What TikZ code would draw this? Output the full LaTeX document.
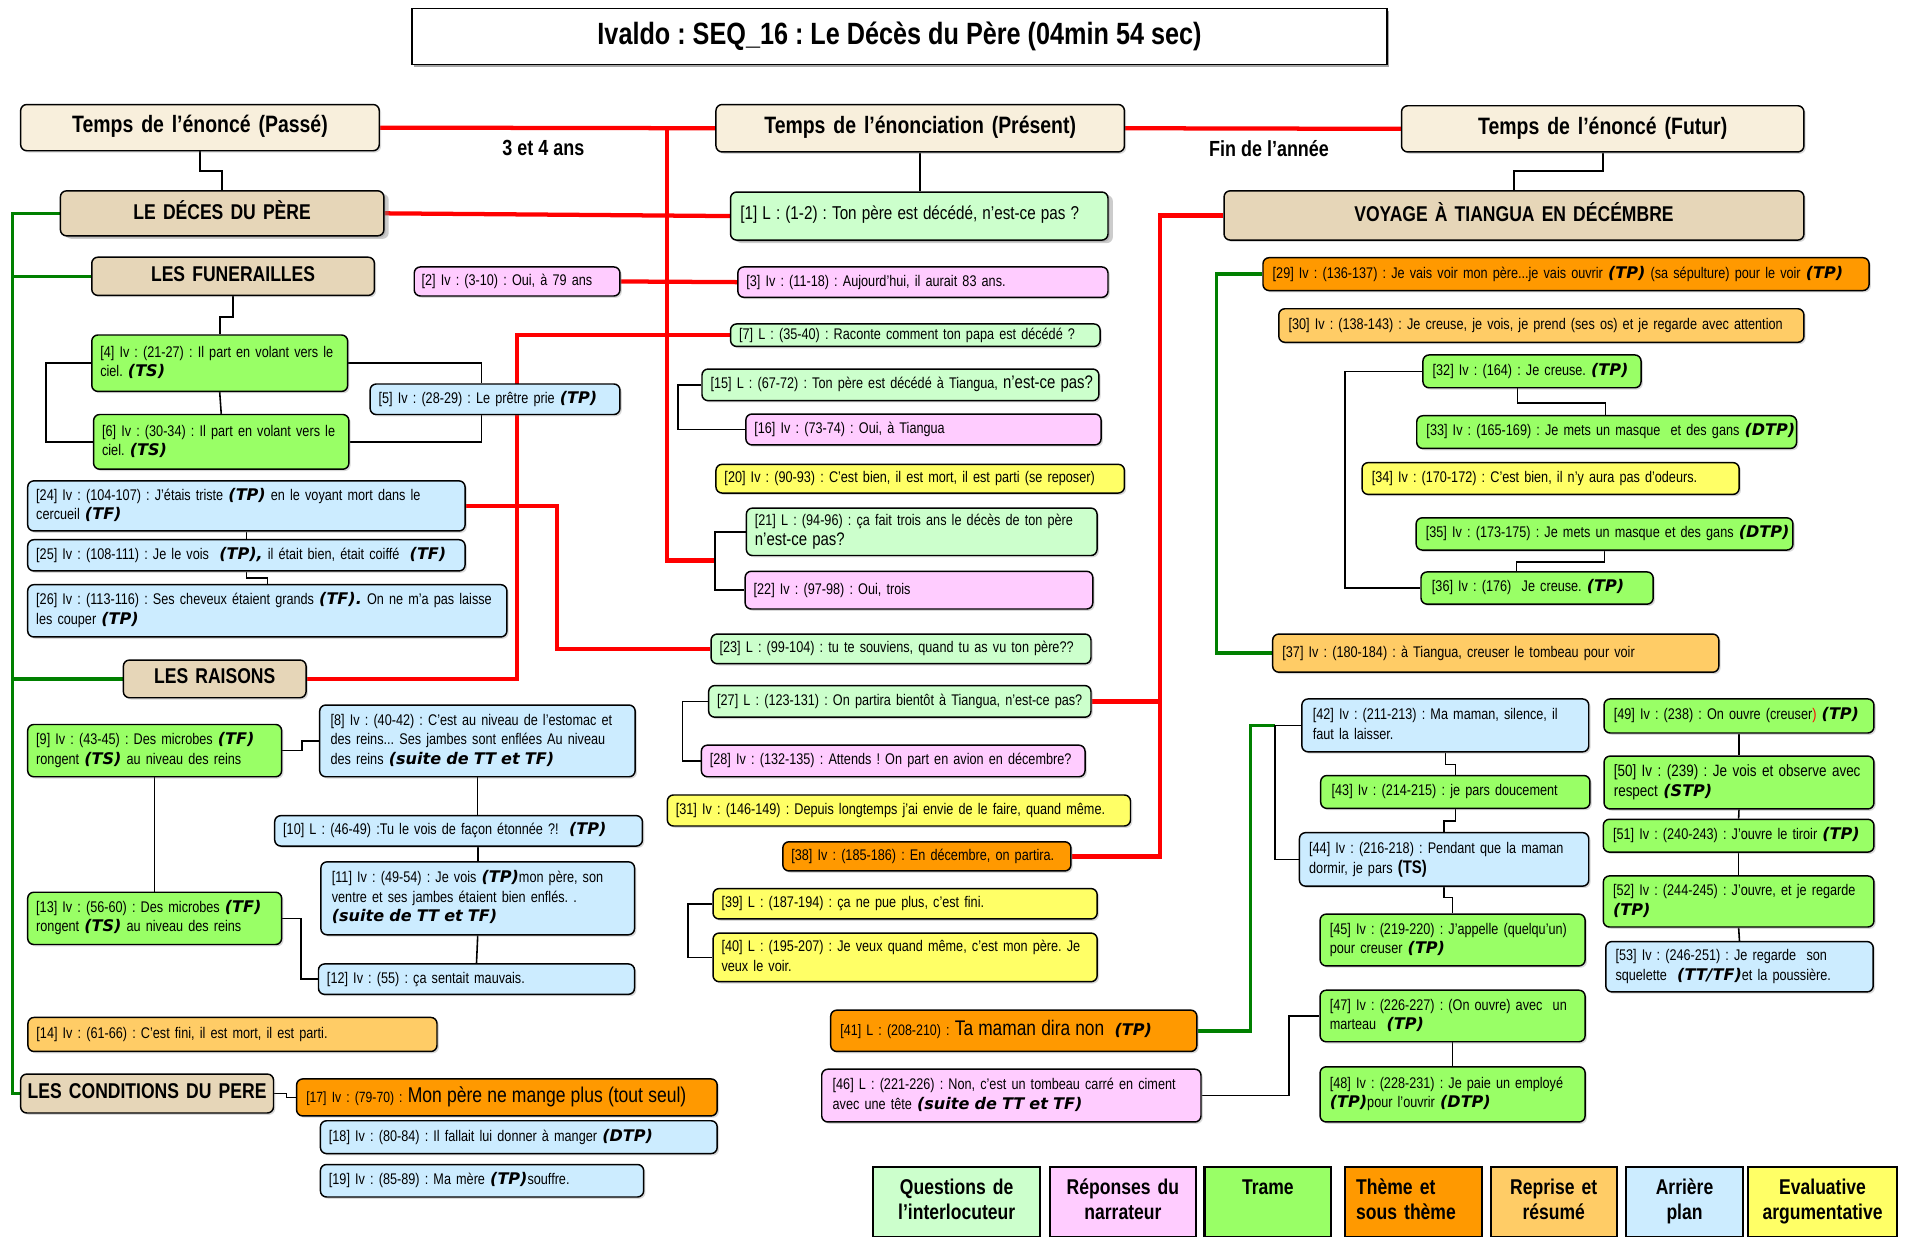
\documentclass[tikz,border=0pt]{standalone}
\usepackage{fontspec}
\setmainfont{Liberation Sans}[FakeStretch=0.82]
\newfontfamily\dvf{DejaVu Sans}
\usetikzlibrary{shadows,backgrounds}
\definecolor{qcol}{HTML}{CCFFCC}
\definecolor{rcol}{HTML}{FFCCFF}
\definecolor{tcol}{HTML}{99FF66}
\definecolor{thcol}{HTML}{FF9900}
\definecolor{recol}{HTML}{FFCC66}
\definecolor{apcol}{HTML}{CCECFF}
\definecolor{evcol}{HTML}{FFFF66}
\definecolor{hdcol}{HTML}{F8EFDC}
\definecolor{secol}{HTML}{E6D6B8}
\definecolor{grn}{HTML}{008000}
\newcommand\fbody{\fontsize{12.7}{16}\selectfont}
\newcommand\tgm[1]{{\dvf\bfseries\itshape\fontsize{13.2}{16}\selectfont #1}}
\newcommand\jl[1]{\makebox[\hsize][s]{#1}}
\newcommand\cl[1]{\makebox[\hsize]{#1}}
\newcommand\bigq[1]{{\fontsize{15}{16.5}\selectfont #1}}
\newcommand\mybox[8][6]{%
  \pgfmathsetmacro\mbx{(#4+#6)/2}%
  \pgfmathsetmacro\mby{(#5+#7)/2}%
  \pgfmathsetmacro\mbw{#6-#4}%
  \pgfmathsetmacro\mbh{#7-#5}%
  \pgfmathsetmacro\mbtw{#6-#4-2*#1}%
  \node[box,#3,inner xsep=#1pt,minimum width=\mbw pt,minimum height=\mbh pt,text width=\mbtw pt] (#2) at (\mbx,\mby)
   {\makebox[\hsize][l]{\begin{tabular}{@{}l@{}}#8\end{tabular}}};}
\tikzset{
  shd/.style={drop shadow={opacity=0.3,shadow xshift=1.5pt,shadow yshift=-1.5pt}},
  box/.style={draw=black,line width=1.2pt,rounded corners=5pt,inner ysep=1pt,align=left,font=\fbody},
  qbox/.style={fill=qcol,shd}, rbox/.style={fill=rcol,shd}, tbox/.style={fill=tcol,shd},
  thbox/.style={fill=thcol,shd}, rebox/.style={fill=recol,shd}, abox/.style={fill=apcol,shd},
  ebox/.style={fill=evcol,shd},
  hdr/.style={fill=hdcol,shd,font=\fontsize{19.5}{22}\selectfont\bfseries},
  sec/.style={fill=secol,shd,font=\fontsize{17.6}{20}\selectfont\bfseries},
  leg/.style={sharp corners,line width=2pt,font=\fontsize{17.6}{20.5}\selectfont\bfseries},
  bigshd/.style={drop shadow={opacity=0.4,shadow xshift=4pt,shadow yshift=-2.5pt}},
  redl/.style={draw=red,line width=3.5pt},
  grl/.style={draw=grn,line width=2.8pt},
  bkl/.style={draw=black,line width=1.3pt},
}
\begin{document}
\frenchspacing
\begin{tikzpicture}[x=1pt,y=-1pt]
\useasboundingbox (0,0) rectangle (1568,1017);
% title
\node[draw,line width=1.2pt,fill=white,minimum width=802pt,minimum height=46pt,
  drop shadow={opacity=0.7,shadow xshift=1.5pt,shadow yshift=-2pt},
  font=\fontsize{25.3}{28}\selectfont\bfseries] (title) at (740,30)
  {Ivaldo : SEQ\_16 : Le Décès du Père (04min 54 sec)};
\node[font=\fontsize{18}{20}\selectfont\bfseries] (lbA) at (447,122) {3 et 4 ans};
\node[font=\fontsize{18}{20}\selectfont\bfseries] (lbB) at (1044,122) {Fin de l’année};
% headers
\mybox{passe}{hdr}{17}{86}{312}{124}{\cl{Temps de l’énoncé (Passé)}}
\mybox{present}{hdr}{589}{86}{925}{125}{\cl{Temps de l’énonciation (Présent)}}
\mybox{futur}{hdr}{1153}{87}{1484}{125}{\cl{Temps de l’énoncé (Futur)}}
\mybox{deces}{sec,bigshd}{49.7}{157}{315.8}{194}{\cl{LE DÉCES DU PÈRE}}
\mybox{voyage}{sec}{1007}{157}{1484}{197.5}{\cl{VOYAGE À TIANGUA EN DÉCÉMBRE}}
\mybox{funer}{sec}{75.5}{211.6}{308}{243}{\cl{LES FUNERAILLES}}
\mybox{raisons}{sec}{101.5}{543}{251.8}{574}{\cl{LES RAISONS}}
\mybox[4]{cond}{sec}{17}{883.6}{225}{915.6}{\cl{LES CONDITIONS DU PERE}}
% left column
\mybox{n2}{rbox}{340.8}{219.6}{510}{243.5}{[2] Iv : (3-10) : Oui, à 79 ans}
\mybox[7]{n4}{tbox}{75.5}{275.6}{286}{322}{[4] Iv : (21-27) : Il part en volant vers le\\ciel. \tgm{(TS)}}
\mybox[7]{n5}{abox}{304.5}{315.9}{510}{341}{[5] Iv : (28-29) : Le prêtre prie \tgm{(TP)}}
\mybox[7]{n6}{tbox}{77}{341}{287}{386}{[6] Iv : (30-34) : Il part en volant vers le\\ciel. \tgm{(TS)}}
\mybox[7]{n24}{abox}{22.8}{395.6}{382.6}{436.8}{[24] Iv : (104-107) : J'étais triste \tgm{(TP)} en le voyant mort dans le\\cercueil \tgm{(TF)}}
\mybox[7]{n25}{abox}{22.8}{444}{382.6}{469.7}{[25] Iv : (108-111) : Je le vois\ \ \tgm{(TP),} il était bien, était coiffé\ \ \tgm{(TF)}}
\mybox[7]{n26}{abox}{22.8}{481}{417}{524}{[26] Iv : (113-116) : Ses cheveux étaient grands \tgm{(TF).}\ On ne m'a pas laisse\\les couper \tgm{(TP)}}
\mybox[7]{n9}{tbox}{22.8}{596}{231.7}{639}{[9] Iv : (43-45) : Des microbes \tgm{(TF)}\\rongent \tgm{(TS)} au niveau des reins}
\mybox[9]{n8}{abox}{263}{580}{522.5}{639}{\jl{[8] Iv : (40-42) : C'est au niveau de l'estomac et}\\\jl{des reins... Ses jambes sont enflées Au niveau}\\des reins \tgm{(suite de TT et TF)}}
\mybox[7]{n10}{abox}{226}{671}{528.5}{696}{[10] L : (46-49) :Tu le vois de façon étonnée ?!\ \ \tgm{(TP)}}
\mybox[9]{n11}{abox}{264}{709}{522}{769}{\jl{[11] Iv : (49-54) : Je vois \tgm{(TP)}mon père, son}\\ventre et ses jambes étaient bien enflés. .\\\tgm{(suite de TT et TF)}}
\mybox[7]{n13}{tbox}{22.8}{734}{231.7}{777}{[13] Iv : (56-60) : Des microbes \tgm{(TF)}\\rongent \tgm{(TS)} au niveau des reins}
\mybox[7]{n12}{abox}{262}{793}{522}{818}{[12] Iv : (55) : ça sentait mauvais.}
\mybox[7]{n14}{rebox}{23}{837}{359.5}{865}{[14] Iv : (61-66) : C’est fini, il est mort, il est parti.}
\mybox[8]{n17}{thbox}{244}{887.6}{590}{918}{{\fontsize{12.2}{14}\selectfont [17] Iv : (79-70) : }{\fontsize{17.6}{20}\selectfont Mon père ne mange plus (tout seul)}}
\mybox[7]{n18}{abox}{263.6}{922}{590}{949}{[18] Iv : (80-84) : Il fallait lui donner à manger \tgm{(DTP)}}
\mybox[7]{n19}{abox}{263.6}{958}{529.5}{984.7}{[19] Iv : (85-89) : Ma mère \tgm{(TP)}souffre.}
% middle column
\mybox[8]{n1}{qbox,bigshd}{601}{158}{911.5}{197.5}{{\fontsize{15.3}{18}\selectfont [1] L : (1-2) : Ton père est décédé, n’est-ce pas ?}}
\mybox[7]{n3}{rbox}{607}{219.6}{911.5}{244.6}{[3] Iv : (11-18) : Aujourd'hui, il aurait 83 ans.}
\mybox[7]{n7}{qbox}{601}{266.5}{905}{285}{[7] L : (35-40) : Raconte comment ton papa est décédé ?}
\mybox[7]{n15}{qbox}{577.5}{303.6}{904}{329.6}{[15] L : (67-72) : Ton père est décédé à Tiangua, \bigq{n’est-ce pas?}}
\mybox[7]{n16}{rbox}{613.6}{340.6}{905.8}{366}{[16] Iv : (73-74) : Oui, à Tiangua}
\mybox[7]{n20}{ebox}{589}{382}{925}{405.6}{[20] Iv : (90-93) : C'est bien, il est mort, il est parti (se reposer)}
\mybox[7]{n21}{qbox}{614}{418}{902.5}{457}{[21] L : (94-96) : ça fait trois ans le décès de ton père\\\bigq{n’est-ce pas?}}
\mybox[7]{n22}{rbox}{613}{470}{899}{501}{[22] Iv : (97-98) : Oui, trois}
\mybox[7]{n23}{qbox}{585}{521.6}{897.5}{546}{[23] L : (99-104) : tu te souviens, quand tu as vu ton père??}
\mybox[7]{n27}{qbox}{583}{564}{897.5}{590}{[27] L : (123-131) : On partira bientôt à Tiangua, n'est-ce pas?}
\mybox[7]{n28}{rbox}{577}{613}{892.6}{639}{[28] Iv : (132-135) : Attends ! On part en avion en décembre?}
\mybox[7]{n31}{ebox}{549}{654}{930}{679.5}{[31] Iv : (146-149) : Depuis longtemps j’ai envie de le faire, quand même.}
\mybox[7]{n38}{thbox}{644}{692.5}{881}{716.5}{[38] Iv : (185-186) : En décembre, on partira.}
\mybox[7]{n39}{ebox}{586.6}{731}{902.6}{756}{[39] L : (187-194) : ça ne pue plus, c’est fini.}
\mybox[7]{n40}{ebox}{586.6}{767.6}{902.6}{807.6}{[40] L : (195-207) : Je veux quand même, c’est mon père. Je\\veux le voir.}
\mybox[8]{n41}{thbox}{683.4}{831}{984.6}{865}{{\fontsize{12.5}{14}\selectfont [41] L : (208-210) : }{\fontsize{17.4}{20}\selectfont Ta maman dira non}\ \ \tgm{(TP)}}
\mybox[9]{n46}{rbox}{676}{879.6}{988}{923}{\jl{[46] L : (221-226) : Non, c'est un tombeau carré en ciment}\\avec une tête \tgm{(suite de TT et TF)}}
% right column
\mybox[8]{n29}{thbox}{1039}{212}{1537.6}{239}{[29] Iv : (136-137) : Je vais voir mon père...je vais ouvrir \tgm{(TP)}\ (sa sépulture) pour le voir \tgm{(TP)}}
\mybox[8]{n30}{rebox}{1052}{254}{1484}{281.6}{[30] Iv : (138-143) : Je creuse, je vois, je prend (ses os) et je regarde avec attention}
\mybox[8]{n32}{tbox}{1170.6}{292}{1350}{319}{[32] Iv : (164) : Je creuse. \tgm{(TP)}}
\mybox[8]{n33}{tbox}{1165.5}{342}{1478}{368.9}{[33] Iv : (165-169) : Je mets un masque\ \ et des gans \tgm{(DTP)}}
\mybox[8]{n34}{ebox}{1120.5}{380.6}{1430.7}{406.7}{[34] Iv : (170-172) : C'est bien, il n'y aura pas d'odeurs.}
\mybox[8]{n35}{tbox}{1165}{426}{1475}{452.5}{[35] Iv : (173-175) : Je mets un masque et des gans \tgm{(DTP)}}
\mybox[9]{n36}{tbox}{1169}{470.5}{1360}{497}{[36] Iv : (176)\ \ Je creuse. \tgm{(TP)}}
\mybox[8]{n37}{rebox}{1047}{521.6}{1414}{553}{[37] Iv : (180-184) : à Tiangua, creuser le tombeau pour voir}
\mybox[9]{n42}{abox}{1071}{575}{1307}{618.5}{[42] Iv : (211-213) : Ma maman, silence, il\\faut la laisser.}
\mybox[9]{n43}{tbox}{1086.5}{638}{1308}{665}{[43] Iv : (214-215) : je pars doucement}
\mybox[8]{n44}{abox}{1069}{685}{1307}{729}{[44] Iv : (216-218) : Pendant que la maman\\dormir, je pars {\bfseries\fontsize{15}{16}\selectfont (TS)}}
\mybox[8]{n45}{tbox}{1086}{752}{1304}{794.6}{[45] Iv : (219-220) : J'appelle (quelqu'un)\\pour creuser \tgm{(TP)}}
\mybox[8]{n47}{tbox}{1086}{814.6}{1304}{857}{[47] Iv : (226-227) : (On ouvre) avec\ \ un\\marteau\ \ \tgm{(TP)}}
\mybox[8]{n48}{tbox}{1086}{877.6}{1304}{923}{[48] Iv : (228-231) : Je paie un employé\\\tgm{(TP)}pour l'ouvrir \tgm{(DTP)}}
\mybox[8]{n49}{tbox}{1319.6}{575}{1541.6}{603}{[49] Iv : (238) : On ouvre (creuser\textcolor{red}{)} \tgm{(TP)}}
\mybox[8]{n50}{tbox,font=\fontsize{13.5}{17}\selectfont}{1319.6}{622}{1541.6}{665.5}{[50] Iv : (239) : Je vois et observe avec\\respect \tgm{(STP)}}
\mybox[8]{n51}{tbox}{1319}{674}{1541.6}{701}{[51] Iv : (240-243) : J'ouvre le tiroir \tgm{(TP)}}
\mybox[8]{n52}{tbox}{1319}{720.6}{1541.6}{762.6}{[52] Iv : (244-245) : J'ouvre, et je regarde\\\tgm{(TP)}}
\mybox[8]{n53}{abox}{1321}{774.6}{1541}{816}{[53] Iv : (246-251) : Je regarde\ \ son\\squelette\ \ \tgm{(TT/TF)}et la poussière.}
% legend
\mybox{l1}{leg,fill=qcol}{718.4}{960}{855.6}{1018}{\cl{Questions de}\\\cl{l’interlocuteur}}
\mybox{l2}{leg,fill=rcol}{863.6}{960}{984}{1018}{\cl{Réponses du}\\\cl{narrateur}}
\mybox{l3}{leg,fill=tcol}{991}{960}{1095}{1018}{\cl{Trame}\\\mbox{}}
\mybox[9]{l4}{leg,fill=thcol}{1106.6}{960}{1219}{1018}{Thème et\\sous thème}
\mybox{l5}{leg,fill=recol}{1226.4}{960}{1330}{1018}{\cl{Reprise et}\\\cl{résumé}}
\mybox{l6}{leg,fill=apcol}{1337.6}{960}{1434}{1018}{\cl{Arrière}\\\cl{plan}}
\mybox[5]{l7}{leg,fill=evcol}{1438}{960}{1560.7}{1018}{\cl{Evaluative}\\\cl{argumentative}}
% connectors
\begin{scope}[on background layer]
\coordinate (rA) at (549,105.5);
\coordinate (rB) at (589,461);
\draw[redl] (passe.east) -- (present.west);
\draw[redl] (present.east) -- (futur.west);
\draw[redl] (rA) |- (rB);
\draw[redl] (deces.east) -- (n1.west);
\draw[redl] (n2.east) -- (n3.west);
\draw[redl] (n7.west) -- ++(-175,0) |- (raisons.east);
\draw[redl] (n24.east) -- ++(75,0) |- (n23.west);
\draw[redl] (voyage.west) -- ++(-52,0) |- (n38.east);
\draw[redl] (n27.east) -- ++(58,0);
\draw[grl] (deces.west) -- ++(-38.7,0) |- (cond.west);
\draw[grl] (funer.west) -- ++(-64.5,0);
\draw[grl] (raisons.west) -- ++(-90.5,0);
\draw[grl] (n29.west) -- ++(-37.4,0) |- (n37.west);
\draw[grl] (n41.east) -- ++(43.4,0) |- ([xshift=-21.6pt]n42.west);
\draw[bkl] (passe.south) -- ++(0,16) -| (deces.north);
\draw[bkl] (present.south) -- (present.south |- n1.north);
\draw[bkl] (futur.south) -- ++(0,15) -| (voyage.north);
\draw[bkl] (funer.south) -- ++(0,17) -| (n4.north);
\draw[bkl] (n4.south) -- (n6.north);
\draw[bkl] (n4.west) -- ++(-37,0) |- (n6.west);
\draw[bkl] (n4.east) -| ([xshift=-11pt]n5.north);
\draw[bkl] (n6.east) -| ([xshift=-11pt]n5.south);
\draw[bkl] (n24.south) -- (n25.north);
\draw[bkl] (n25.south) -- ++(0,5) -| (n26.north);
\draw[bkl] (n9.east) -- ++(16,0) |- (n8.west);
\draw[bkl] (n9.south) -- (n13.north);
\draw[bkl] (n8.south) -- (n8.south |- n10.north);
\draw[bkl] (n11.north |- n10.south) -- (n11.north);
\draw[bkl] (n11.south) -- (n12.north);
\draw[bkl] (n13.east) -- ++(15.5,0) |- (n12.west);
\draw[bkl] (cond.east) -- ++(10,0) |- (n17.west);
\draw[bkl] (n15.west) -- ++(-19,0) |- (n16.west);
\draw[bkl] (n21.west) -- ++(-25,0) |- (n22.west);
\draw[bkl] (n27.west) -- ++(-21,0) |- (n28.west);
\draw[bkl] (n39.west) -- ++(-20,0) |- (n40.west);
\draw[bkl] (n32.west) -- ++(-63.6,0) |- (n36.west);
\draw[bkl] ([xshift=-12pt]n32.south) -- ++(0,12) -| ([xshift=-1pt]n33.north);
\draw[bkl] (n35.south) -- ++(0,9) -| ([xshift=-17pt]n36.north);
\draw[bkl] (n42.south) -- ++(0,9.7) -| (n43.north);
\draw[bkl] (n43.south) -- ++(0,10) -| (n44.north);
\draw[bkl] (n44.south) -- ++(0,8.6) -| (n45.north);
\draw[bkl] (n47.south) -- (n48.north);
\draw[bkl] (n42.west) -- ++(-21.6,0) |- (n44.west);
\draw[bkl] (n46.east) -- ++(72,0) |- (n47.west);
\draw[bkl] (n49.south) -- (n50.north);
\draw[bkl] (n50.south) -- (n51.north);
\draw[bkl] (n51.south) -- (n52.north);
\draw[bkl] (n52.south) -- (n53.north);
\end{scope}
\end{tikzpicture}
\end{document}
